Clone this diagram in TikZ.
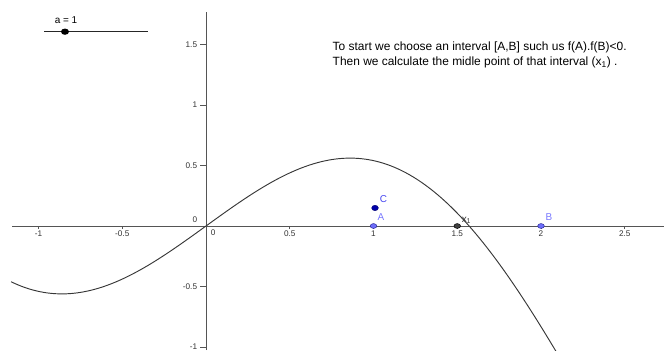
\documentclass[tikz,border=0pt]{standalone}
\usepackage{fontspec}
\setmainfont{Liberation Sans}
\definecolor{axisgray}{RGB}{85,85,85}
\definecolor{curvegray}{RGB}{55,55,55}
\definecolor{ptlight}{RGB}{110,110,250}
\definecolor{ptborder}{RGB}{40,40,150}
\definecolor{ptdark}{RGB}{0,0,170}
\definecolor{lbllight}{RGB}{120,120,255}
\definecolor{lbldark}{RGB}{70,70,240}
\tikzset{
  axis/.style={axisgray, line width=0.6pt},
  tickmark/.style={axisgray, line width=0.5pt},
  ticklbl/.style={text=black!80, font=\fontsize{7}{8}\selectfont, inner sep=0pt},
  curve/.style={curvegray, line width=0.8pt},
  ptlbl/.style={font=\fontsize{8.5}{9}\selectfont, inner sep=0pt},
}
\begin{document}
\begin{tikzpicture}[x=5.025cm, y=3.63cm]
    \useasboundingbox (-1.2299,-1.0248) rectangle (2.7343,1.8678);

    % Achsen
    \draw[axis] (-1.158,0) -- (2.7343,0);
    \draw[axis] (0,-1.0248) -- (0,1.769);

    % x-Ticks
    \draw[tickmark] (-1,0) -- (-1,-0.022);
    \draw[tickmark] (-0.5,0) -- (-0.5,-0.022);
    \draw[tickmark] (0.5,0) -- (0.5,-0.022);
    \draw[tickmark] (1,0) -- (1,-0.022);
    \draw[tickmark] (1.5,0) -- (1.5,-0.022);
    \draw[tickmark] (2,0) -- (2,-0.022);
    \draw[tickmark] (2.5,0) -- (2.5,-0.022);
    \node[ticklbl] (xm1) at (-1,-0.06) {-1};
    \node[ticklbl] (xm05) at (-0.5,-0.06) {-0.5};
    \node[ticklbl] (x0) at (0.042,-0.052) {0};
    \node[ticklbl] (x05) at (0.5,-0.06) {0.5};
    \node[ticklbl] (x1) at (1,-0.06) {1};
    \node[ticklbl] (x15) at (1.5,-0.06) {1.5};
    \node[ticklbl] (x2) at (2,-0.06) {2};
    \node[ticklbl] (x25) at (2.5,-0.06) {2.5};

    % y-Ticks
    \draw[tickmark] (0,1.5) -- (-0.036,1.5);
    \draw[tickmark] (0,1) -- (-0.036,1);
    \draw[tickmark] (0,0.5) -- (-0.036,0.5);
    \draw[tickmark] (0,-0.5) -- (-0.036,-0.5);
    \draw[tickmark] (0,-1) -- (-0.036,-1);
    \node[ticklbl, anchor=east] (y15) at (-0.052,1.5) {1.5};
    \node[ticklbl, anchor=east] (y1) at (-0.052,1) {1};
    \node[ticklbl, anchor=east] (y05) at (-0.052,0.5) {0.5};
    \node[ticklbl] (y0) at (-0.066,0.052) {0};
    \node[ticklbl, anchor=east] (ym05) at (-0.052,-0.5) {-0.5};
    \node[ticklbl, anchor=east] (ym1) at (-0.052,-1) {-1};

    % Funktion
    \begin{scope}
        \clip (-1.2299,-1.0248) rectangle (2.7343,1.8678);
        \draw[curve] plot[domain=-1.164:2.12, samples=150, smooth] (\x,{\x*cos(\x r)});
    \end{scope}

    % Schieberegler a
    \coordinate (slL) at (-0.967,1.606);
    \coordinate (slR) at (-0.346,1.606);
    \coordinate (slP) at (-0.842,1.606);
    \draw[black!85, line width=0.6pt] (slL) -- (slR);
    \fill[black] (slP) ellipse [x radius=0.024, y radius=0.026];
    \node[ptlbl] (alabel) at (-0.836,1.702) {a = 1};

    % Text
    \node[anchor=west, align=left, font=\fontsize{10.2}{12.8}\selectfont, inner sep=0pt] (info) at (0.755,1.41)
        {To start we choose an interval [A,B] such us f(A).f(B)<0.\\
         Then we calculate the midle point of that interval (x\textsubscript{1}) .};

    % Punkte
    \coordinate (A) at (1,0);
    \coordinate (B) at (2,0);
    \coordinate (C) at (1.009,0.149);
    \coordinate (X1) at (1.5,0);
    \filldraw[fill=ptlight, draw=ptborder, line width=0.4pt] (A) ellipse [x radius=0.02, y radius=0.02];
    \filldraw[fill=ptlight, draw=ptborder, line width=0.4pt] (B) ellipse [x radius=0.02, y radius=0.02];
    \filldraw[fill=ptdark, draw=ptdark!70!black, line width=0.4pt] (C) ellipse [x radius=0.02, y radius=0.022];
    \filldraw[fill=black!75, draw=black, line width=0.4pt] (X1) ellipse [x radius=0.02, y radius=0.02];
    \node[ptlbl, text=lbllight] (Alabel) at (1.045,0.074) {A};
    \node[ptlbl, text=lbllight] (Blabel) at (2.048,0.074) {B};
    \node[ptlbl, text=lbldark] (Clabel) at (1.06,0.225) {C};
    \node[ptlbl, text=black!80] (X1label) at (1.555,0.045) {x\textsubscript{1}};
\end{tikzpicture}
\end{document}
